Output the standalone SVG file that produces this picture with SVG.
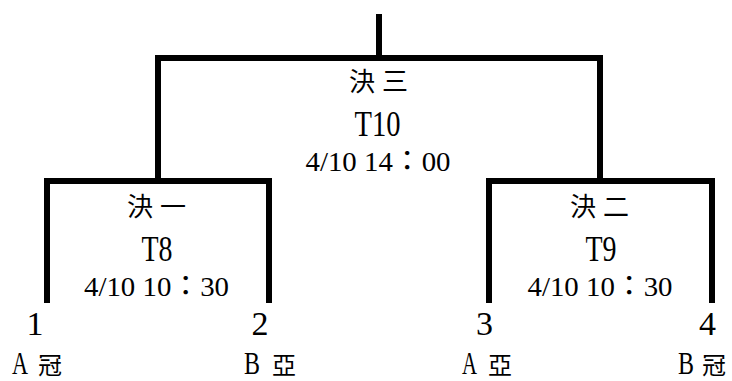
<svg xmlns="http://www.w3.org/2000/svg" width="732" height="381" viewBox="0 0 732 381">
<style>
.ln{fill:none;stroke:#000;stroke-width:6;stroke-linejoin:miter;stroke-linecap:butt}
text{font-family:"Liberation Serif","Noto Sans CJK TC",serif;fill:#000}
.cjk{font-size:26px;font-family:"Noto Sans CJK TC",serif}
.cjs{font-size:24px;font-family:"Noto Sans CJK TC",serif}
.t{font-size:36px;text-anchor:middle}
.d{font-size:28px;text-anchor:middle}
.n{font-size:34px;text-anchor:middle}
.lab{font-size:31px}
</style>
<rect width="732" height="381" fill="#fff"/>
<g id="connectors">
<path class="ln" d="M379 14V58"/>
<path class="ln" d="M158 181V58H600V181"/>
<path class="ln" d="M47 303V181H269V303"/>
<path class="ln" d="M489 303V181H712V303"/>
</g>
<g id="match-T10">
<text class="cjk" x="349 382" y="91">決三</text>
<text class="t" x="377.5" y="136" textLength="46" lengthAdjust="spacingAndGlyphs">T10</text>
<text class="d" x="378" y="171" textLength="145" lengthAdjust="spacingAndGlyphs">4/10 14：00</text>
</g>
<g id="match-T8">
<text class="cjk" x="127 160" y="216">決一</text>
<text class="t" x="157" y="261" textLength="31" lengthAdjust="spacingAndGlyphs">T8</text>
<text class="d" x="156.5" y="296" textLength="145" lengthAdjust="spacingAndGlyphs">4/10 10：30</text>
</g>
<g id="match-T9">
<text class="cjk" x="570 603" y="216">決二</text>
<text class="t" x="601" y="261" textLength="31" lengthAdjust="spacingAndGlyphs">T9</text>
<text class="d" x="600" y="296" textLength="145" lengthAdjust="spacingAndGlyphs">4/10 10：30</text>
</g>
<g id="team-1">
<text class="n" x="35" y="335">1</text>
<text class="lab" y="374"><tspan x="12" textLength="16" lengthAdjust="spacingAndGlyphs">A</tspan><tspan class="cjs" x="38">冠</tspan></text>
</g>
<g id="team-2">
<text class="n" x="260" y="335">2</text>
<text class="lab" y="374"><tspan x="244" textLength="16" lengthAdjust="spacingAndGlyphs">B</tspan><tspan class="cjs" x="272">亞</tspan></text>
</g>
<g id="team-3">
<text class="n" x="484.5" y="335">3</text>
<text class="lab" y="374"><tspan x="462" textLength="15" lengthAdjust="spacingAndGlyphs">A</tspan><tspan class="cjs" x="488">亞</tspan></text>
</g>
<g id="team-4">
<text class="n" x="707.5" y="335">4</text>
<text class="lab" y="374"><tspan x="678" textLength="16" lengthAdjust="spacingAndGlyphs">B</tspan><tspan class="cjs" x="702">冠</tspan></text>
</g>
</svg>
